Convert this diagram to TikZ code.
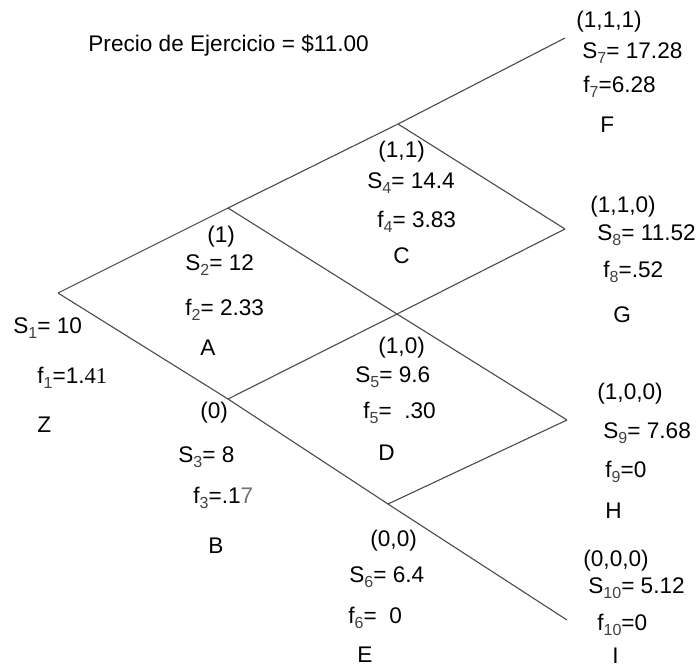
\documentclass[tikz,border=0pt]{standalone}
\usepackage{fontspec}
\setmainfont{Liberation Sans}
\newfontfamily\timesfont{Liberation Serif}
\usepackage{xcolor}
\usepackage{tikz}
\usetikzlibrary{positioning}
\definecolor{tLine}{HTML}{4A4A4A}
\definecolor{tInk}{HTML}{000000}
\newcommand{\idx}[1]{\raisebox{-0.45ex}{\fontsize{8}{9}\selectfont\textcolor{black!75}{#1}}}

\begin{document}
\begin{tikzpicture}[x=0.5pt, y=-0.5pt,
      branch/.style={draw=tLine, line width=0.55pt},
      lbl/.style={anchor=base west, inner sep=0pt, text=tInk, font=\fontsize{11.3}{13}\selectfont}]
      \useasboundingbox (0,0) rectangle (696,665);
      % vertices of the tree
      \coordinate (vZ) at (58,293);
      \coordinate (vA) at (228,208);
      \coordinate (vB) at (228,399);
      \coordinate (vC) at (398,124);
      \coordinate (vD) at (397,314);
      \coordinate (vE) at (388,504);
      \coordinate (vF) at (565,38);
      \coordinate (vG) at (565,229);
      \coordinate (vH) at (567,420);
      \coordinate (vI) at (567,620);
      \draw[branch] (vZ) -- (vA) -- (vC) -- (vF);
      \draw[branch] (vZ) -- (vB) -- (vE) -- (vI);
      \draw[branch] (vA) -- (vD) -- (vH);
      \draw[branch] (vB) -- (vD) -- (vG);
      \draw[branch] (vC) -- (vG);
      \draw[branch] (vE) -- (vH);
      \node[lbl] (strike) at (88,51) {Precio de Ejercicio = \$11.00};
      % Z
      \node[lbl] (priceZ) at (13,333) {S\idx{1}= 10};
      \node[lbl] (payZ) at (37,383) {f\idx{1}=1.{\timesfont 41}};
      \node[lbl] (nameZ) at (37,432) {Z};
      % A
      \node[lbl] (pathA) at (207,242) {(1)};
      \node[lbl] (priceA) at (185,270) {S\idx{2}= 12};
      \node[lbl] (payA) at (185,315) {f\idx{2}= 2.33};
      \node[lbl] (nameA) at (200,355) {A};
      % B
      \node[lbl] (pathB) at (200,418) {(0)};
      \node[lbl] (priceB) at (178,462) {S\idx{3}= 8};
      \node[lbl] (payB) at (193,503) {f\idx{3}=.1\textcolor{black!55}{7}};
      \node[lbl] (nameB) at (208,553) {B};
      % C
      \node[lbl] (pathC) at (378,157) {(1,1)};
      \node[lbl] (priceC) at (367,188) {S\idx{4}= 14.4};
      \node[lbl] (payC) at (377,227) {f\idx{4}= 3.83};
      \node[lbl] (nameC) at (393,263) {C};
      % D
      \node[lbl] (pathD) at (378,353) {(1,0)};
      \node[lbl] (priceD) at (355,382) {S\idx{5}= 9.6};
      \node[lbl] (payD) at (363,418) {f\idx{5}= \ .30};
      \node[lbl] (nameD) at (378,460) {D};
      % E
      \node[lbl] (pathE) at (370,546) {(0,0)};
      \node[lbl] (priceE) at (349,582) {S\idx{6}= 6.4};
      \node[lbl] (payE) at (348,623) {f\idx{6}= \ 0};
      \node[lbl] (nameE) at (357,662) {E};
      % F
      \node[lbl] (pathF) at (576,27) {(1,1,1)};
      \node[lbl] (priceF) at (582,58) {S\idx{7}= 17.28};
      \node[lbl] (payF) at (583,92) {f\idx{7}=6.28};
      \node[lbl] (nameF) at (600,132) {F};
      % G
      \node[lbl] (pathG) at (590,212) {(1,1,0)};
      \node[lbl] (priceG) at (597,240) {S\idx{8}= 11.52};
      \node[lbl] (payG) at (603,277) {f\idx{8}=.52};
      \node[lbl] (nameG) at (613,322) {G};
      % H
      \node[lbl] (pathH) at (597,399) {(1,0,0)};
      \node[lbl] (priceH) at (603,438) {S\idx{9}= 7.68};
      \node[lbl] (payH) at (605,477) {f\idx{9}=0};
      \node[lbl] (nameH) at (605,518) {H};
      % I
      \node[lbl] (pathI) at (583,566) {(0,0,0)};
      \node[lbl] (priceI) at (588,593) {S\idx{10}= 5.12};
      \node[lbl] (payI) at (597,630) {f\idx{10}=0};
      \node[lbl] (nameI) at (612,663) {I};
    \end{tikzpicture}
\end{document}
